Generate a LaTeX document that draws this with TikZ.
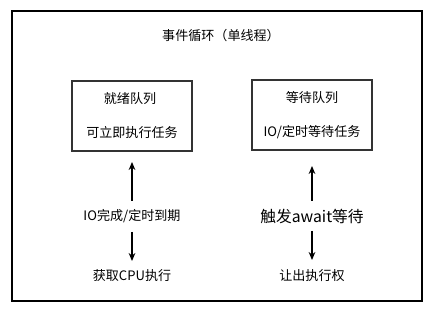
\documentclass[tikz,border=0pt]{standalone}
\usepackage{fontspec}
\setmainfont{Noto Sans CJK SC}
\usetikzlibrary{arrows.meta}
\begin{document}
\begin{tikzpicture}[x=0.75pt,y=-0.75pt,
  lbl/.style={font=\fontsize{9.8}{11}\selectfont, inner sep=0pt},
  big/.style={font=\fontsize{11.8}{14}\selectfont, inner sep=0pt},
  qbox/.style={draw=black!80, line width=0.8pt, minimum width=120*0.75pt, minimum height=70*0.75pt, inner sep=0pt},
  arr/.style={-{Stealth[length=6pt,width=5pt]}, line width=0.8pt}
]
\useasboundingbox (0,0) rectangle (433,313);
\fill[white] (0,0) rectangle (433,313);
\node[draw=black, line width=0.8pt, minimum width=410*0.75pt, minimum height=290*0.75pt, inner sep=0pt] (outer) at (217,156) {};
\node[lbl] (title) at (221,36) {事件循环（单线程）};
\node[qbox] (ready) at (132,116) {};
\node[lbl] (readyT) at (130,99) {就绪队列};
\node[lbl] (readyD) at (132,133) {可立即执行任务};
\node[qbox] (wait) at (312,115) {};
\node[lbl] (waitT) at (312,98) {等待队列};
\node[lbl] (waitD) at (312,132) {IO/定时等待任务};
\node[lbl] (io) at (132,216) {IO完成/定时到期};
\node[lbl] (cpu) at (132,276) {获取CPU执行};
\node[big] (aw) at (312,217) {触发await等待};
\node[lbl] (give) at (312,276) {让出执行权};
\coordinate (a1) at (132,201);
\coordinate (a2) at (132,162);
\draw[arr] (a1) -- (a2);
\coordinate (b1) at (132,232);
\coordinate (b2) at (132,261);
\draw[arr] (b1) -- (b2);
\coordinate (c1) at (312,201);
\coordinate (c2) at (312,166);
\draw[arr] (c1) -- (c2);
\coordinate (d1) at (312,231);
\coordinate (d2) at (312,260);
\draw[arr] (d1) -- (d2);
\end{tikzpicture}
\end{document}
